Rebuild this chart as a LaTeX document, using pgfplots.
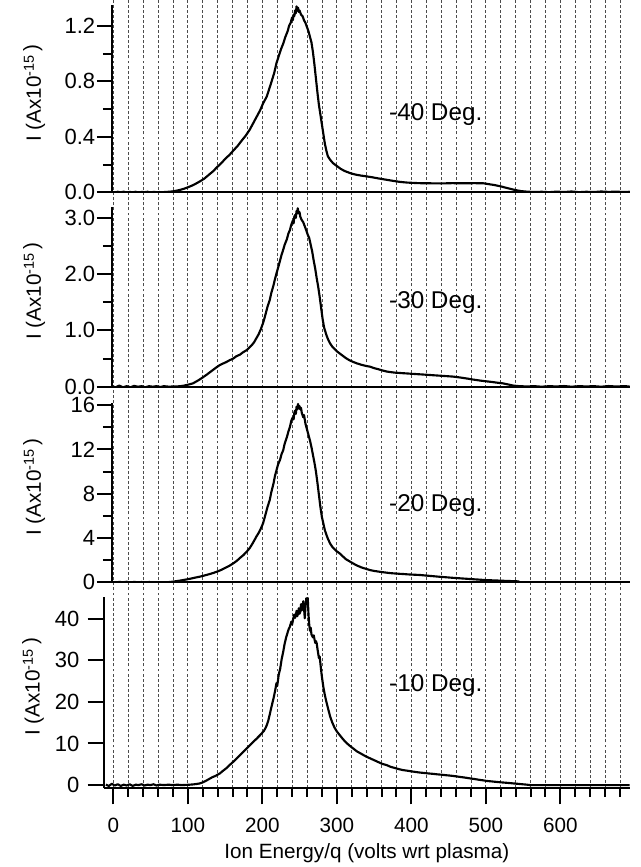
\documentclass[border=0pt]{standalone}
\usepackage{pgfplots}
\pgfplotsset{compat=1.18}
\usepackage{fontspec}
\setmainfont{Liberation Sans}
\newcommand{\tfont}{\fontsize{15.5}{18}\selectfont}
\newcommand{\yfont}{\fontsize{16.5}{18}\selectfont}
\newcommand{\dfont}{\fontsize{18.2}{21}\selectfont}
\newcommand{\ylab}{I (Ax10\textsuperscript{-15}\,\raisebox{2pt}{)}}
\tikzset{degl/.style={anchor=base west, inner sep=0pt, font=\dfont}}
\pgfplotsset{
  panel/.style={
    anchor=south west,
    x=0.55875pt, xmin=-2, xmax=693,
    axis x line*=bottom, axis y line*=left,
    axis line style={line width=1.5pt, black},
    xtick=\empty,
    tick align=outside,
    major tick length=11.25pt, minor tick length=6.75pt,
    tick style={line width=1.5pt, black},
    xticklabel style={font=\tfont},
    yticklabel style={font=\yfont, inner xsep=1pt, inner ysep=0pt},
    ylabel={\ylab},
    ylabel style={at={(axis description cs:-0.1500,0.53)}, anchor=center, font=\tfont},
  },
  curve/.style={line width=1.6pt, black, line join=round, no markers},
}
\begin{document}
\begin{tikzpicture}
\useasboundingbox (0pt,0pt) rectangle (480.75pt,650.25pt);

% background vertical grid
\begin{axis}[at={(78pt,59.25pt)}, anchor=south west,
  x=0.55875pt, xmin=-12.5, xmax=693, ymin=0, ymax=1, y=591pt,
  xtick={0,20,...,680}, xticklabels=\empty, ytick=\empty,
  xmajorgrids, major tick length=0pt, axis line style={draw=none},
  major grid style={black!70, line width=0.5pt, dash pattern=on 2.2pt off 1.6pt}]
\end{axis}

% -40 Deg
\begin{axis}[panel, at={(83.85pt,506.0pt)}, y=104.1pt, ymin=0, ymax=1.35,
  ytick={0,0.4,0.8,1.2}, yticklabels={0.0,0.4,0.8,1.2}, minor ytick={0.2,0.6,1.0}]
\addplot[curve] coordinates {(-2,0.002)(2,-0.003)(6,0.004)(10,0.0)(14,0.005)(18,-0.002)(22,0.003)(26,0.0)(30,0.004)(34,-0.002)(38,0.003)(42,0.001)(46,0.004)(50,-0.001)(54,0.003)(58,0.001)(62,0.002)(66,0.0)(70,0.003)(75,0.004)(80,0.007)(85,0.012)(90,0.018)(95,0.026)(100,0.036)(105,0.047)(110,0.060)(116,0.078)(122,0.098)(128,0.125)(134,0.152)(139,0.18)(145,0.21)(150,0.24)(156,0.27)(161,0.30)(167,0.335)(172,0.37)(178,0.41)(183,0.45)(188,0.50)(192,0.54)(197,0.59)(201,0.64)(206,0.69)(209,0.74)(212,0.79)(216,0.86)(219,0.93)(222,0.98)(225,1.03)(228,1.07)(231,1.12)(234,1.16)(236,1.20)(238,1.22)(240,1.26)(241,1.24)(242,1.28)(243,1.27)(244,1.31)(245,1.29)(246,1.34)(247,1.31)(248,1.33)(249,1.30)(250,1.31)(252,1.28)(254,1.27)(256,1.24)(258,1.22)(260,1.19)(262,1.16)(264,1.12)(266,1.08)(268,1.01)(270,0.92)(272,0.82)(274,0.72)(276,0.63)(278,0.56)(280,0.49)(282,0.42)(284,0.35)(286,0.30)(288,0.26)(291,0.235)(295,0.21)(300,0.19)(305,0.17)(310,0.155)(318,0.138)(325,0.128)(332,0.121)(340,0.115)(348,0.108)(356,0.10)(365,0.092)(375,0.083)(385,0.075)(395,0.070)(410,0.066)(425,0.065)(440,0.064)(455,0.066)(470,0.065)(485,0.066)(497,0.065)(505,0.058)(512,0.052)(520,0.043)(527,0.033)(533,0.025)(540,0.016)(547,0.009)(555,0.005)(565,0.002)(575,0.004)(585,0.001)(595,0.005)(605,0.002)(615,0.006)(625,0.001)(635,0.004)(645,0.002)(655,0.006)(665,0.003)(675,0.005)(685,0.002)(693,0.004)};
\node[degl] at (axis cs:370,0.516) {-40 Deg.};
\end{axis}

% -30 Deg
\begin{axis}[panel, at={(83.85pt,360.2pt)}, y=42.225pt, ymin=0, ymax=3.2,
  ytick={0,1,2,3}, yticklabels={0.0,1.0,2.0,3.0}, minor ytick={0.5,1.5,2.5}]
\addplot[curve] coordinates {(-2,0.01)(3,-0.01)(8,0.02)(13,-0.01)(18,0.01)(23,-0.01)(28,0.015)(33,0.0)(38,0.01)(43,-0.01)(48,0.01)(53,0.0)(58,0.01)(63,-0.005)(68,0.01)(75,0.0)(80,0.005)(85,0.005)(90,0.01)(95,0.02)(100,0.035)(107,0.06)(111,0.09)(115,0.12)(120,0.165)(125,0.21)(130,0.26)(134,0.30)(138,0.34)(143,0.385)(147,0.41)(152,0.44)(156,0.47)(161,0.50)(165,0.54)(170,0.57)(174,0.61)(179,0.65)(183,0.70)(186,0.74)(189,0.79)(192,0.86)(195,0.93)(198,1.02)(201,1.13)(203,1.22)(205,1.32)(207,1.42)(210,1.54)(212,1.66)(215,1.80)(217,1.91)(219,2.01)(222,2.15)(224,2.25)(226,2.35)(228,2.43)(230,2.52)(233,2.62)(235,2.72)(237,2.78)(239,2.88)(241,2.95)(242,2.90)(243,3.02)(244,3.05)(245,3.00)(246,3.12)(247,3.08)(247.5,3.17)(249,3.08)(250,3.10)(251,3.02)(253,2.96)(255,2.92)(257,2.85)(259,2.78)(261,2.70)(263,2.64)(265,2.52)(267,2.40)(269,2.24)(271,2.10)(273,1.93)(275,1.78)(277,1.60)(279,1.40)(281,1.20)(283,1.05)(286,0.92)(288,0.85)(291,0.77)(294,0.71)(297,0.67)(300,0.63)(304,0.59)(308,0.55)(312,0.51)(317,0.47)(322,0.44)(327,0.415)(333,0.39)(339,0.37)(345,0.355)(350,0.33)(356,0.31)(361,0.29)(367,0.27)(372,0.26)(378,0.25)(384,0.245)(389,0.24)(395,0.235)(400,0.23)(406,0.225)(412,0.22)(423,0.21)(434,0.20)(445,0.19)(456,0.18)(465,0.165)(475,0.145)(484,0.125)(492,0.11)(500,0.097)(508,0.085)(515,0.072)(523,0.06)(530,0.04)(537,0.02)(545,0.01)(555,0.005)(565,0.01)(575,0.0)(585,0.01)(595,0.005)(605,0.012)(615,0.0)(625,0.01)(635,0.005)(645,0.01)(655,0.0)(665,0.012)(675,0.004)(685,0.01)(693,0.005)};
\node[degl] at (axis cs:370,1.39) {-30 Deg.};
\end{axis}

% -20 Deg
\begin{axis}[panel, at={(83.85pt,213.5pt)}, y=8.31pt, ymin=0, ymax=16.2,
  ytick={0,4,8,12,16}, yticklabels={0,4,8,12,16}, minor ytick={2,6,10,14}]
\addplot[curve] coordinates {(-2,0.05)(3,-0.05)(8,0.04)(13,0.0)(18,0.05)(23,-0.03)(28,0.04)(33,0.0)(38,0.03)(43,-0.03)(48,0.03)(53,0.0)(58,0.02)(63,-0.02)(68,0.02)(74,0.02)(80,0.06)(85,0.11)(90,0.16)(95,0.22)(99,0.27)(103,0.32)(107,0.38)(111,0.44)(116,0.51)(122,0.61)(128,0.72)(134,0.84)(139,0.96)(145,1.12)(150,1.30)(156,1.50)(161,1.71)(166,1.95)(170,2.2)(175,2.48)(179,2.76)(183,3.08)(186,3.4)(189,3.75)(192,4.12)(195,4.45)(197,4.7)(199,5.0)(201,5.32)(203,5.8)(205,6.3)(207,6.8)(210,7.43)(212,8.1)(215,8.9)(217,9.6)(219,10.1)(221,10.6)(224,11.1)(226,11.6)(228,11.9)(230,12.5)(233,13.1)(235,13.6)(237,14.0)(239,14.6)(241,14.9)(242,14.7)(243,15.3)(244,15.5)(245,15.2)(246,15.85)(247,15.6)(248,16.1)(249,15.7)(250,15.9)(251,15.6)(252,15.75)(253,15.3)(255,14.9)(256,15.1)(258,14.3)(260,13.8)(262,13.3)(264,12.8)(266,12.2)(268,11.5)(270,10.8)(272,10.0)(274,9.0)(276,7.9)(278,6.8)(280,5.9)(282,5.3)(284,4.7)(286,4.3)(288,3.95)(291,3.5)(294,3.2)(297,3.0)(300,2.8)(304,2.6)(308,2.35)(312,2.1)(317,1.9)(322,1.7)(327,1.52)(333,1.35)(339,1.22)(345,1.1)(350,1.03)(356,0.97)(361,0.92)(367,0.87)(372,0.83)(378,0.80)(384,0.77)(389,0.75)(395,0.72)(400,0.70)(406,0.68)(412,0.66)(420,0.61)(430,0.55)(440,0.49)(448,0.45)(455,0.41)(462,0.38)(470,0.34)(479,0.30)(485,0.27)(490,0.25)(495,0.225)(501,0.20)(507,0.185)(512,0.17)(518,0.155)(523,0.14)(529,0.125)(535,0.11)(540,0.10)(545,0.08)};
\node[degl] at (axis cs:370,6.37) {-20 Deg.};
\end{axis}

% -10 Deg
\begin{axis}[panel, at={(78pt,59.25pt)}, xmin=-12.5, y=3.12pt, ymin=-0.7, ymax=45.2,
  major tick length=12.2pt,
  ytick={0,10,20,30,40}, yticklabels={0,10,20,30,40},
  yticklabel style={inner xsep=0pt, xshift=-6pt},
  xtick={0,100,...,600}, xticklabels={0,100,200,300,400,500,600},
  minor xtick={0,20,...,680},
  xticklabel style={inner ysep=0pt, yshift=-10pt},
  ylabel style={at={(axis description cs:-0.1350,0.53)}},
  xlabel={Ion Energy/q (volts wrt plasma)},
  xlabel style={at={(axis description cs:0.5,0)}, anchor=base, yshift=-52.5pt, font=\tfont}]
\addplot[curve] coordinates {(-10,0.1)(-6,-0.2)(-2,0.3)(2,-0.1)(6,0.2)(10,-0.2)(14,0.1)(18,-0.1)(22,0.2)(26,-0.2)(30,0.1)(34,0.0)(38,0.2)(42,-0.1)(46,0.1)(50,0.0)(54,0.2)(58,-0.1)(62,0.1)(68,0.0)(74,0.1)(80,0.0)(86,0.1)(92,0.0)(98,0.05)(103,0.1)(108,0.18)(112,0.28)(116,0.4)(120,0.65)(123,0.9)(126,1.2)(130,1.6)(133,1.9)(137,2.2)(140,2.5)(143,2.8)(147,3.4)(152,4.1)(156,4.8)(161,5.6)(165,6.3)(170,7.2)(174,7.9)(179,8.8)(183,9.5)(188,10.4)(192,11.1)(197,12.0)(200,12.6)(202,13.0)(204,13.6)(206,14.4)(208,15.5)(210,17.0)(212,18.6)(215,20.8)(217,22.5)(219,24.5)(220,23.8)(222,26.5)(224,28.0)(226,30.3)(228,32.0)(230,34.0)(232,35.5)(233,36.1)(235,37.3)(237,38.1)(239,39.3)(240,38.6)(241.6,40.1)(243,41.0)(244,40.2)(245,40.8)(246,41.9)(247,40.6)(248,41.3)(249,42.5)(250,41.2)(251,41.7)(252,43.5)(253,42.0)(254,42.8)(255,44.2)(256,42.5)(257,40.1)(258,43.0)(259,44.9)(260,43.5)(261,45.0)(262,41.0)(263,38.5)(264,37.1)(265,37.8)(266,36.2)(268,35.5)(269,36.0)(271,34.2)(272,34.6)(273,34.1)(274,32.8)(276,30.5)(277,30.9)(279,27.5)(280,26.0)(282,23.5)(284,21.6)(286,20.0)(288,18.6)(291,16.5)(294,15.0)(297,13.8)(300,12.9)(304,12.0)(308,11.1)(312,10.3)(317,9.5)(322,8.8)(327,8.1)(333,7.5)(339,6.9)(345,6.4)(350,6.0)(356,5.5)(361,5.1)(367,4.8)(372,4.4)(378,4.1)(384,3.8)(389,3.6)(395,3.45)(400,3.3)(406,3.15)(412,3.0)(418,2.9)(423,2.8)(429,2.7)(434,2.6)(440,2.5)(445,2.4)(451,2.3)(456,2.2)(462,2.05)(468,1.9)(474,1.75)(479,1.6)(485,1.45)(490,1.3)(496,1.15)(501,1.0)(508,0.88)(515,0.75)(521,0.65)(528,0.55)(533,0.47)(537,0.4)(542,0.32)(546,0.25)(551,0.17)(555,0.1)(560,0.0)(580,0.0)(600,0.0)(620,0.0)(640,0.0)(660,0.0)(680,0.0)(693,0.0)};
\node[degl] at (axis cs:370,22.6) {-10 Deg.};
\end{axis}
\end{tikzpicture}
\end{document}
